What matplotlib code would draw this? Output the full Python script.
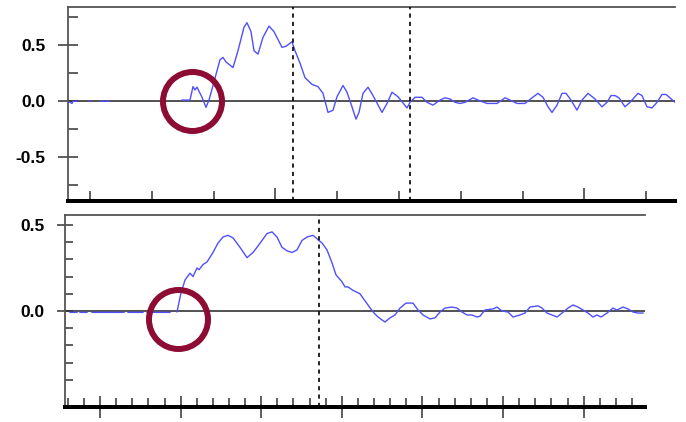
import numpy as np
import matplotlib.pyplot as plt

nan = np.nan

# upper trace: time (ms) and amplitude
top_t = [0, 4, 5, 9, 9, 21, 23, 23, 32, 36, 36, 38, 42, 42,
         114, 122, 125, 127, 129, 134, 138, 141, 145, 152, 155, 158, 165, 170,
         176, 179, 183, 186, 190, 195, 201, 206, 214, 218, 224, 227, 232, 237,
         244, 250, 255, 260, 265, 269, 275, 279, 284, 288, 291, 295, 300, 305,
         314, 319, 324, 330, 339, 342, 347, 354, 359, 365, 372, 377, 382, 387,
         392, 397, 405, 410, 419, 429, 437, 442, 449, 457, 464, 470, 475, 480,
         484, 489, 494, 498, 503, 509, 514, 520, 527, 534, 539, 543, 547, 551,
         557, 562, 570, 574, 579, 584, 589, 594, 598, 602, 607]
top_v = [0.0, -0.02, 0.0, 0.0, nan, 0.0, 0.0, nan, 0.0, 0.0, nan, 0.0, 0.0, nan,
         0.01, 0.01, 0.13, 0.10, 0.125, 0.035, -0.055, 0.01, 0.14, 0.37, 0.39, 0.35, 0.30, 0.45,
         0.66, 0.70, 0.62, 0.45, 0.42, 0.57, 0.67, 0.62, 0.48, 0.49, 0.53, 0.45, 0.34, 0.21,
         0.15, 0.13, 0.07, -0.10, -0.08, 0.04, 0.14, 0.08, -0.05, -0.16, -0.10, 0.07, 0.125, 0.05,
         -0.10, -0.02, 0.08, 0.04, -0.06, -0.01, 0.035, 0.035, -0.01, -0.035, 0.01, 0.03, 0.02, -0.01,
         -0.02, -0.01, 0.03, 0.01, -0.02, -0.02, 0.03, 0.01, -0.02, -0.02, 0.03, 0.07, 0.035, -0.05,
         -0.10, -0.035, 0.07, 0.07, 0.01, -0.08, 0.01, 0.07, 0.02, -0.05, -0.01, 0.05, 0.05, 0.03,
         -0.05, -0.01, 0.07, 0.05, -0.05, -0.06, -0.01, 0.06, 0.06, 0.03, -0.01]
top_marks = [225, 342]
top_circle = 124

# lower trace
bot_t = [5, 12, 12, 15, 22, 22, 27, 59, 59, 63, 78, 78, 82, 105, 105,
         112, 116, 120, 125, 128, 132, 134, 138, 142, 148, 153, 158, 163, 168,
         175, 182, 188, 192, 197, 202, 207, 212, 217, 222, 227, 232, 237, 242,
         248, 252, 257, 262, 267, 271, 277, 280, 283, 288, 295, 298, 303, 308,
         313, 320, 325, 330, 335, 341, 348, 353, 358, 365, 370, 375, 380, 387,
         392, 397, 402, 407, 412, 415, 420, 428, 432, 437, 443, 448, 455, 460,
         465, 473, 477, 482, 487, 492, 497, 503, 508, 513, 518, 523, 528, 532,
         536, 542, 548, 552, 558, 563, 568, 573, 578]
bot_v = [-0.008, -0.008, nan, -0.008, -0.008, nan, -0.008, -0.008, nan, -0.008, -0.008, nan, -0.008, -0.008, nan,
         -0.005, 0.105, 0.18, 0.22, 0.20, 0.25, 0.24, 0.27, 0.285, 0.34, 0.395, 0.43, 0.44, 0.425,
         0.37, 0.31, 0.34, 0.37, 0.41, 0.45, 0.46, 0.43, 0.37, 0.35, 0.34, 0.355, 0.41, 0.43,
         0.44, 0.42, 0.395, 0.355, 0.28, 0.21, 0.17, 0.14, 0.14, 0.12, 0.10, 0.075, 0.035, -0.005,
         -0.035, -0.064, -0.04, -0.023, 0.017, 0.046, 0.046, 0.006, -0.023, -0.046, -0.04, -0.006, 0.017, 0.023,
         0.017, -0.006, -0.023, -0.023, -0.035, -0.03, 0.006, 0.012, 0.023, 0.0, -0.006, -0.035, -0.023, -0.012,
         0.023, 0.03, 0.017, -0.012, -0.023, -0.035, -0.012, 0.017, 0.035, 0.023, 0.006, -0.012, -0.035, -0.023,
         -0.035, -0.012, 0.017, 0.006, 0.023, 0.012, -0.006, -0.012, -0.012]
bot_marks = [254]
bot_circle = (113, -0.047)

blue = '#4f4fff'
red = '#8c0c34'
px = 72 / 100  # points per pixel

plt.rcParams['font.family'] = ['Liberation Sans', 'DejaVu Sans']
fig = plt.figure(figsize=(6.86, 4.22), dpi=100)
ax1 = fig.add_axes([68 / 686, 1 - 201 / 422, 607 / 686, 194 / 422])
ax2 = fig.add_axes([65 / 686, 1 - 407 / 422, 580 / 686, 192 / 422])


def style(ax):
    ax.spines['right'].set_visible(False)
    for s in ('left', 'top'):
        ax.spines[s].set_color('#555555')
        ax.spines[s].set_linewidth(1.3)
    ax.spines['bottom'].set_color('black')
    ax.spines['bottom'].set_linewidth(4 * px)
    ax.tick_params(axis='x', which='both', labelbottom=False, color='#333333', width=1.1)
    ax.tick_params(axis='y', which='both', color='#333333', width=1.1, labelsize=12.5)
    for lab in ax.get_yticklabels():
        lab.set_fontweight('bold')


# upper panel
ax1.axhline(0, color='#333333', lw=1.2, zorder=1)
ax1.plot(top_t, top_v, color=blue, lw=1.0, zorder=2)
for m in top_marks:
    ax1.axvline(m, color='black', lw=1.2, ls=(0, (2.5, 2.5)), zorder=3)
ax1.plot(top_circle, 0, 'o', ms=59 * px, mfc='none', mec=red, mew=6 * px, clip_on=False, zorder=4)
ax1.set_xlim(0, 607)
ax1.set_ylim(-0.89, 0.84)
xt = 22 + 61.8 * np.arange(10)
ax1.set_xticks(xt[[3, 8]])
ax1.set_xticks(np.delete(xt, [3, 8]), minor=True)
ax1.set_yticks([-0.5, 0.0, 0.5])
ax1.set_yticklabels(['-0.5', '0.0', '0.5'])
ax1.set_yticks([-0.75, -0.25, 0.25, 0.75], minor=True)
style(ax1)
ax1.tick_params(axis='x', which='major', direction='in', length=13 * px)
ax1.tick_params(axis='x', which='minor', direction='in', length=10 * px)
ax1.tick_params(axis='y', which='major', direction='inout', length=20 * px, pad=9)
ax1.tick_params(axis='y', which='minor', direction='in', length=10 * px)

# lower panel
ax2.axhline(0, color='#333333', lw=1.2, zorder=1)
ax2.plot(bot_t, bot_v, color=blue, lw=1.0, zorder=2)
for m in bot_marks:
    ax2.axvline(m, color='black', lw=1.2, ls=(0, (2.5, 2.5)), zorder=3)
ax2.plot(*bot_circle, 'o', ms=59 * px, mfc='none', mec=red, mew=6 * px, clip_on=False, zorder=4)
ax2.set_xlim(0, 580)
ax2.set_ylim(-0.558, 0.558)
major = 35 + 80.6 * np.arange(7)
minor = 2.8 + 16.12 * np.arange(36)
minor = [m for m in minor if np.min(np.abs(major - m)) > 3]
ax2.set_xticks(major)
ax2.set_xticks(minor, minor=True)
ax2.set_yticks([0.0, 0.5])
ax2.set_yticklabels(['0.0', '0.5'])
ax2.set_yticks([-0.4, -0.3, -0.2, -0.1, 0.1, 0.2, 0.3, 0.4], minor=True)
style(ax2)
ax2.tick_params(axis='x', which='major', direction='inout', length=23 * px)
ax2.tick_params(axis='x', which='minor', direction='in', length=9 * px)
ax2.tick_params(axis='y', which='major', direction='inout', length=16 * px, pad=9)
ax2.tick_params(axis='y', which='minor', direction='in', length=8 * px)

fig.savefig('out.png', dpi=100)
